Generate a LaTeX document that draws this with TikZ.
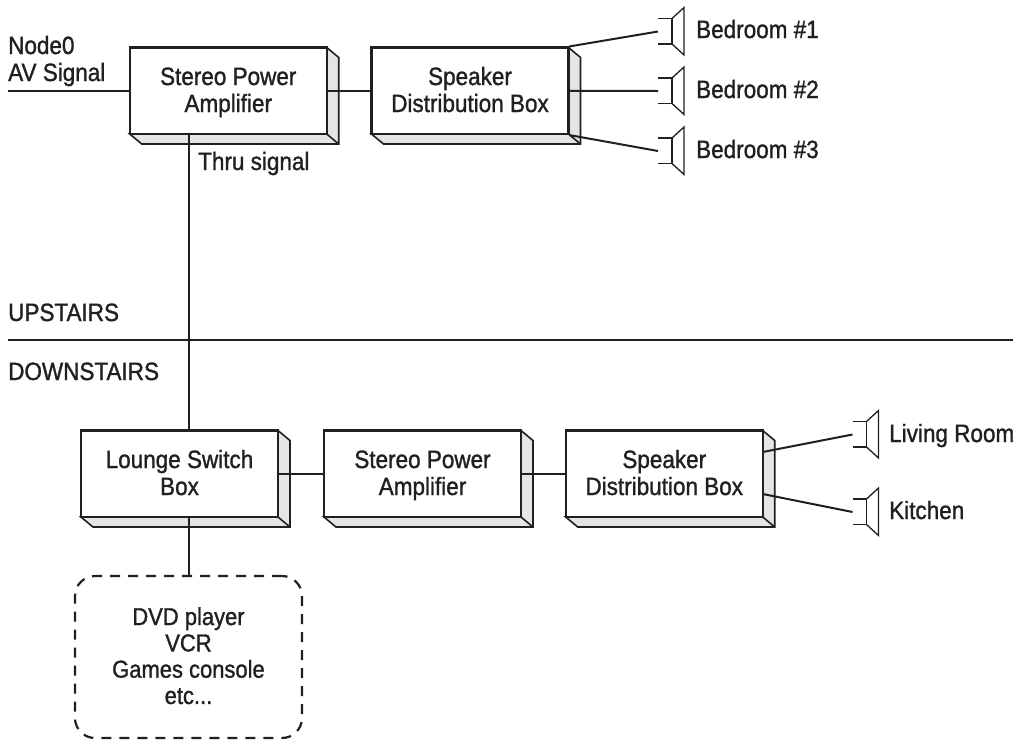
\documentclass[tikz,border=0pt]{standalone}
\usepackage{fontspec}
\setmainfont[FakeStretch=0.9,FakeBold=1.2]{Liberation Sans}
\definecolor{inkc}{HTML}{231F20}
\definecolor{sidec}{HTML}{E3E5E6}
\newcommand{\hiA}{\rule{0pt}{23pt}}
\newcommand{\loA}{\rule[-7.5pt]{0pt}{7.5pt}}
\newcommand{\hiB}{\rule{0pt}{22pt}}
\newcommand{\loB}{\rule[-7pt]{0pt}{7pt}}
\tikzset{
  x=1pt,y=-1pt,
  wire/.style={draw=inkc,line width=2pt},
  front/.style={draw=inkc,line width=2.2pt,fill=white,minimum width=197pt,minimum height=86.5pt,inner sep=0pt,align=center,font=\fontsize{25}{27}\selectfont,text=inkc},
  side/.style={draw=inkc,line width=1.6pt,fill=sidec,line join=miter},
  lbl/.style={inner sep=0pt,anchor=base west,font=\fontsize{25}{27}\selectfont,text=inkc},
  cone/.style={draw=inkc,line width=1.3pt,line join=miter},
  dashbox/.style={draw=inkc,line width=2.2pt,dash pattern=on 10pt off 8pt,rounded corners=20pt,minimum width=227pt,minimum height=162pt,inner sep=0pt,align=center,font=\fontsize{24.4}{26.3}\selectfont,text=inkc}
}
\newcommand{\boxthree}[5]{%
  \draw[side] (#2,#3) ++(98.5,-43.25) -- ++(12,10) -- ++(0,86.5) -- ++(-197,0) -- ++(-12,-10) -- ++(197,0) -- cycle;
  \draw[side] (#2,#3) ++(98.5,43.25) -- ++(12,10);
  \node[front] (#1) at (#2,#3) {\hiA #4\\#5\loA};
}
\newcommand{\speaker}[3]{%
  \coordinate (#1) at (#2,#3);
  \draw[cone] (#1) ++(0,-13) -- ++(14,0) -- ++(0,25.5) -- ++(-14,0);
  \draw[cone] (#1) ++(14,-13) -- ++(12,-11) -- ++(0,47.5) -- ++(-12,-11);
}
\begin{document}
\begin{tikzpicture}
\useasboundingbox (0,0) rectangle (1017,740);
\fill[white] (0,0) rectangle (1017,740);
\boxthree{ampA}{228.25}{90.75}{Stereo Power}{Amplifier}
\boxthree{distA}{470}{90.75}{Speaker}{Distribution Box}
\boxthree{lounge}{179.5}{473.75}{Lounge Switch}{Box}
\boxthree{ampB}{422.5}{473.75}{Stereo Power}{Amplifier}
\boxthree{distB}{664.25}{473.75}{Speaker}{Distribution Box}
\node[dashbox] (src) at (188.5,657) {\hiB DVD player\\VCR\\Games console\\etc...\loB};
\speaker{spkA}{658}{31.5}
\speaker{spkB}{658}{91}
\speaker{spkC}{658}{151}
\speaker{spkD}{852.5}{434.5}
\speaker{spkE}{852.5}{512}
\coordinate (avin) at (8,90.75);
\coordinate (thruA) at (188.5,134);
\coordinate (thruB) at (188.5,430.5);
\coordinate (srcA) at (188.5,517);
\coordinate (floorL) at (8,339.5);
\coordinate (floorR) at (1013,339.5);
\coordinate (distBa) at (762.75,452);
\coordinate (distBb) at (762.75,494);
\draw[wire] (avin) -- (ampA.west);
\draw[wire] (ampA.east) -- (distA.west);
\draw[wire] (distA.north east) -- (spkA);
\draw[wire] (distA.east) -- (spkB);
\draw[wire] (distA.south east) -- (spkC);
\draw[wire] (thruA) -- (thruB);
\draw[wire] (floorL) -- (floorR);
\draw[wire] (lounge.east) -- (ampB.west);
\draw[wire] (ampB.east) -- (distB.west);
\draw[wire] (distBa) -- (spkD);
\draw[wire] (distBb) -- (spkE);
\draw[wire] (srcA) -- (src.north -| srcA);
\node[lbl] (t1) at (8,54) {Node0};
\node[lbl] (t2) at (8,81) {AV Signal};
\node[lbl] (t3) at (198,170) {Thru signal};
\node[lbl] (t4) at (696,38) {Bedroom \#1};
\node[lbl] (t5) at (696,98) {Bedroom \#2};
\node[lbl] (t6) at (696,158) {Bedroom \#3};
\node[lbl] (t7) at (8,321) {UPSTAIRS};
\node[lbl] (t8) at (8,380) {DOWNSTAIRS};
\node[lbl] (t9) at (889,442) {Living Room};
\node[lbl] (t10) at (889,519) {Kitchen};
\end{tikzpicture}
\end{document}
